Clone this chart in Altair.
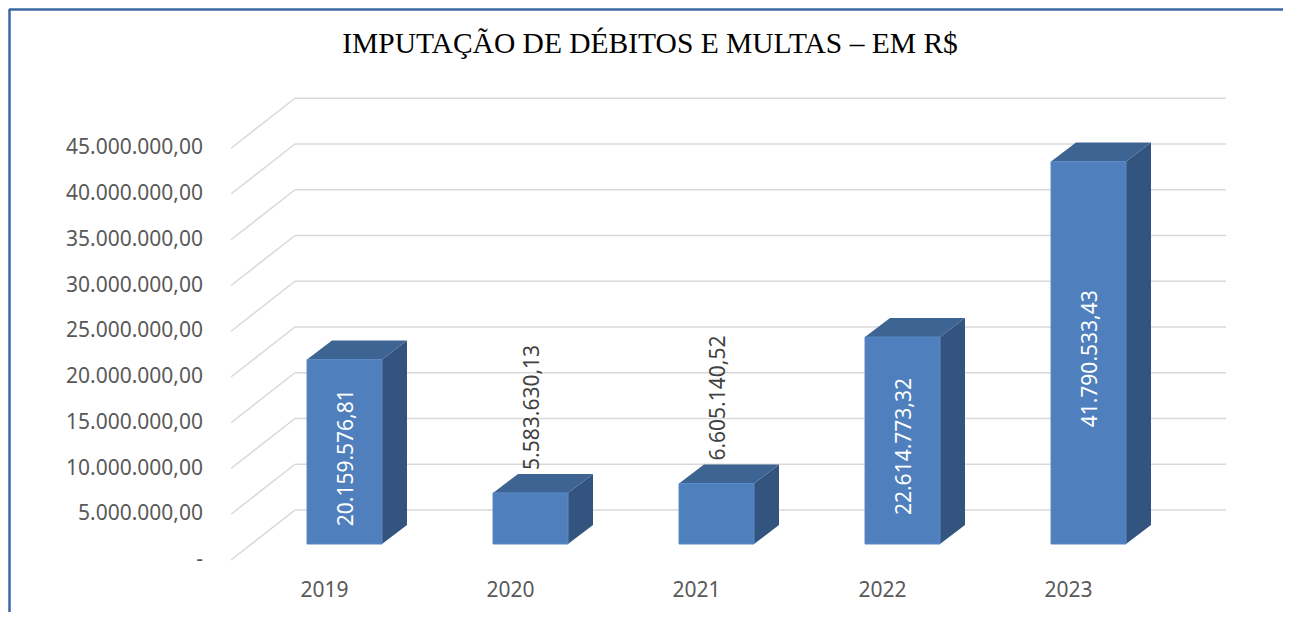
import json
import altair as alt
import pandas as pd

# ---------------- data ----------------
years = ["2019", "2020", "2021", "2022", "2023"]
values = [20159576.81, 5583630.13, 6605140.52, 22614773.32, 41790533.43]
ticks = [0, 5e6, 10e6, 15e6, 20e6, 25e6, 30e6, 35e6, 40e6, 45e6]
tick_labels = ["-", "5.000.000,00", "10.000.000,00", "15.000.000,00", "20.000.000,00",
               "25.000.000,00", "30.000.000,00", "35.000.000,00", "40.000.000,00",
               "45.000.000,00"]
title_text = "IMPUTAÇÃO DE DÉBITOS E MULTAS – EM R$"


def brl(v):
    s = f"{v:,.2f}"
    return s.replace(",", "X").replace(".", ",").replace("X", ".")


# ---------------- layout (pixels) ----------------
W, H = 995, 463
PAD_L, PAD_T, PAD_R, PAD_B = 223, 91, 57, 50
STEP = 186.0          # px per category
PX_PER_RS = 9.15e-6   # px per R$


def ux(p):   # pixels -> x units
    return p / STEP


def vy(p):   # pixels -> R$ units
    return p / PX_PER_RS


FRONT_DROP = 16   # floor front line below bar base
BACK_RISE = 34    # back wall line above bar base
FLOOR_DX = 64
BAR_LEFT = 76
BAR_W = 75
DEPTH_X = 25
DEPTH_Y = 19
FS = 21

xs = alt.Scale(domain=[0, W / STEP], range=[0, W], zero=False, nice=False)
ys = alt.Scale(domain=[vy(-18), vy(H - 18)], zero=False, nice=False)

label_expr = json.dumps(years) + "[floor(datum.value)]"
x_axis = alt.Axis(values=[i + 0.5 for i in range(len(years))], labelExpr=label_expr,
                  domain=False, ticks=False, grid=False, labelPadding=17,
                  labelFontSize=FS, labelFont="Noto Sans", labelColor="#595959",
                  labelFlush=False, labelOverlap=False, title=None)

GRID = "#D9D9D9"
FRONT = "#4F80BD"
TOP = "#3E6493"
SIDE = "#33547F"
TXT = "#595959"

# ---------------- tables ----------------
tick_df = pd.DataFrame({
    "t": ticks,
    "label": tick_labels,
})
tick_df["yf"] = tick_df["t"] - vy(FRONT_DROP)
tick_df["yb"] = tick_df["t"] + vy(BACK_RISE)
tick_df["xf"] = 0.0
tick_df["xb"] = ux(FLOOR_DX)
tick_df["xe"] = W / STEP

bars = []
tops = []
sides = []
labels = []
for i, (yr, v) in enumerate(zip(years, values)):
    x0 = i + ux(BAR_LEFT)
    x1 = x0 + ux(BAR_W)
    dx = ux(DEPTH_X)
    dy = vy(DEPTH_Y)
    bars.append({"year": yr, "x0": x0, "x1": x1, "base": 0.0, "value": v})
    for xx, hi, lo in [(x0, v, v), (x0 + dx, v + dy, v), (x1, v + dy, v), (x1 + dx, v + dy, v + dy)]:
        tops.append({"year": yr, "x": xx, "hi": hi, "lo": lo})
    for xx, hi, lo in [(x1, v, 0.0), (x1 + dx, v + dy, dy)]:
        sides.append({"year": yr, "x": xx, "hi": hi, "lo": lo})
    inside = v * PX_PER_RS > 160
    labels.append({
        "year": yr,
        "xc": (x0 + x1) / 2 + ux(2),
        "y": v / 2 - vy(6) if inside else v + vy(DEPTH_Y + 4),
        "text": brl(v),
        "inside": inside,
    })

bar_df = pd.DataFrame(bars)
top_df = pd.DataFrame(tops)
side_df = pd.DataFrame(sides)
lab_df = pd.DataFrame(labels)
title_df = pd.DataFrame({"title": [title_text]})

# ---------------- layers ----------------
border_top = alt.Chart(bar_df.head(1)).mark_rule(color="#3D68A3", strokeWidth=2.5).encode(
    x=alt.value(-PAD_L + 1), x2=alt.value(W + PAD_R), y=alt.value(-PAD_T + 1.5))
border_left = alt.Chart(bar_df.head(1)).mark_rule(color="#3D68A3", strokeWidth=2.5).encode(
    x=alt.value(-PAD_L + 1.5), y=alt.value(-PAD_T + 1), y2=alt.value(H + PAD_B))
title = alt.Chart(title_df).mark_text(font="Liberation Serif", fontSize=29.5, color="black",
                                      align="center", baseline="alphabetic").encode(
    x=alt.value(650 - (PAD_L + 8)), y=alt.value(53 - (PAD_T + 8)), text="title:N")

back = alt.Chart(tick_df).mark_rule(color=GRID, strokeWidth=1.5).encode(
    x=alt.X("xb:Q", scale=xs, axis=x_axis), x2="xe:Q",
    y=alt.Y("yb:Q", scale=ys, axis=None))
diag = alt.Chart(tick_df).mark_rule(color=GRID, strokeWidth=1.5).encode(
    x=alt.X("xf:Q", scale=xs, axis=x_axis), x2="xb:Q",
    y=alt.Y("yf:Q", scale=ys, axis=None), y2="yb:Q")
ylab = alt.Chart(tick_df).mark_text(align="right", baseline="middle", font="Noto Sans",
                                    fontSize=FS, color=TXT).encode(
    x=alt.value(-28), y=alt.Y("yf:Q", scale=ys, axis=None), text="label:N")

front = alt.Chart(bar_df).mark_rect(color=FRONT, stroke="#5A8AC6", strokeWidth=1).encode(
    x=alt.X("x0:Q", scale=xs, axis=x_axis), x2="x1:Q",
    y=alt.Y("base:Q", scale=ys, axis=None), y2="value:Q")
top = alt.Chart(top_df).mark_area(color=TOP, orient="vertical").encode(
    x=alt.X("x:Q", scale=xs, axis=x_axis),
    y=alt.Y("hi:Q", scale=ys, axis=None, stack=None), y2="lo:Q", detail="year:N")
side = alt.Chart(side_df).mark_area(color=SIDE, orient="vertical").encode(
    x=alt.X("x:Q", scale=xs, axis=x_axis),
    y=alt.Y("hi:Q", scale=ys, axis=None, stack=None), y2="lo:Q", detail="year:N")

lab_in = alt.Chart(lab_df).transform_filter("datum.inside").mark_text(
    angle=270, align="center", baseline="middle", font="Noto Sans", fontSize=FS,
    color="white").encode(
    x=alt.X("xc:Q", scale=xs, axis=x_axis), y=alt.Y("y:Q", scale=ys, axis=None), text="text:N")
lab_out = alt.Chart(lab_df).transform_filter("!datum.inside").mark_text(
    angle=270, align="left", baseline="middle", font="Noto Sans", fontSize=FS,
    color="#404040").encode(
    x=alt.X("xc:Q", scale=xs, axis=x_axis), y=alt.Y("y:Q", scale=ys, axis=None), text="text:N")

chart = alt.layer(border_top, border_left, title, back, diag, ylab, side, top, front,
                  lab_in, lab_out).properties(
    width=W, height=H,
    background="white",
    autosize=alt.AutoSizeParams(type="none"),
    padding={"left": PAD_L, "top": PAD_T, "right": PAD_R, "bottom": PAD_B},
).configure_view(strokeWidth=0)

chart.save("out.html", embed_options={"renderer": "svg", "actions": False})
